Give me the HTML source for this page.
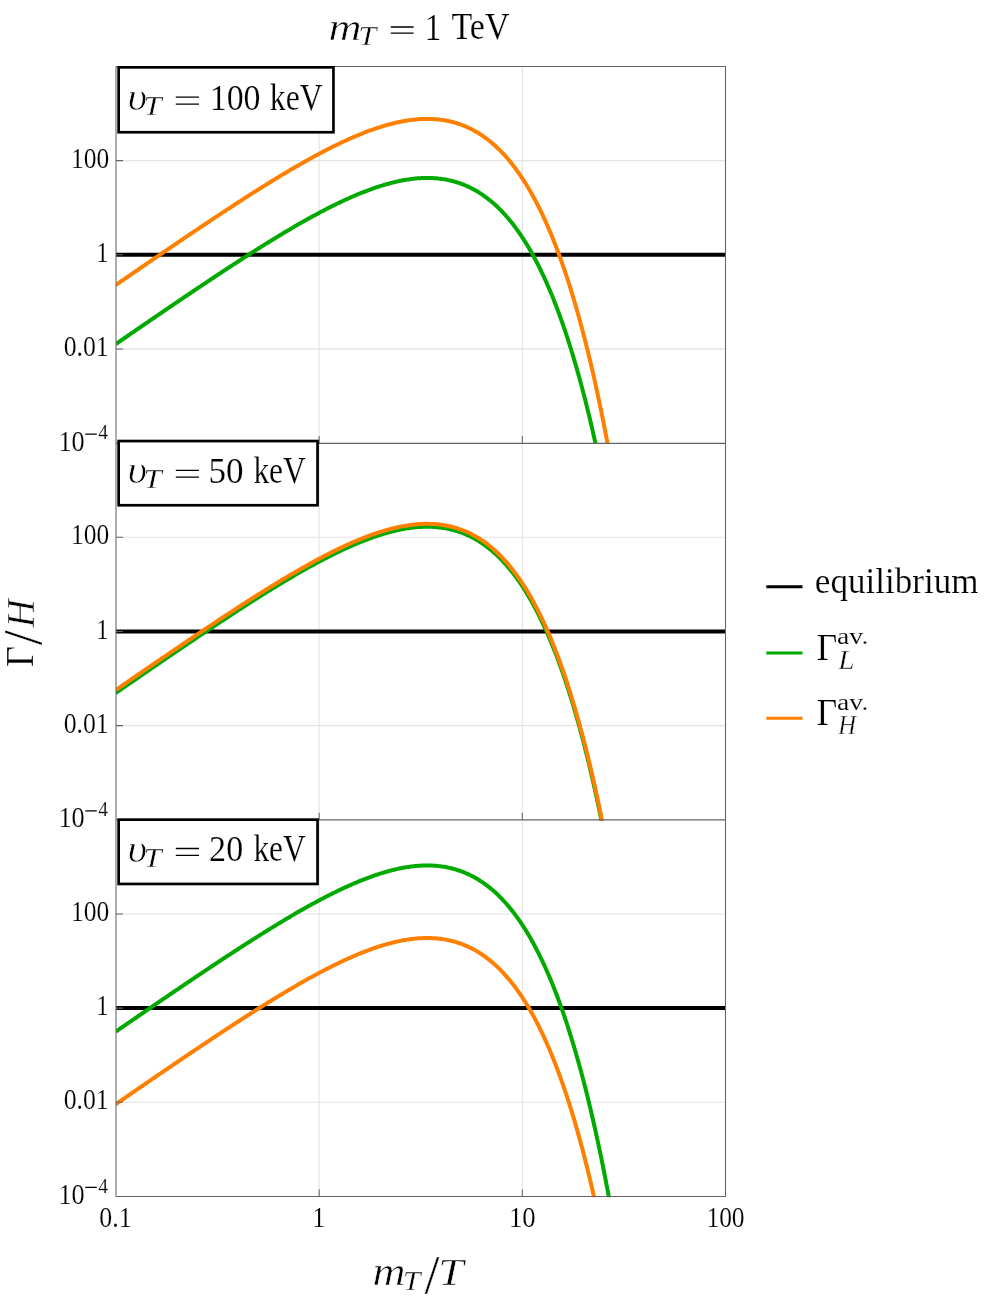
<!DOCTYPE html>
<html><head><meta charset="utf-8"><title>Gamma/H chart</title>
<style>html,body{margin:0;padding:0;background:#fff}svg{display:block}</style></head>
<body>
<svg width="991" height="1304" viewBox="0 0 991 1304" font-family="'Liberation Serif', serif" font-size="40" fill="#000">
<rect width="991" height="1304" fill="#fff"/>
<defs>
<clipPath id="c0"><rect x="116.0" y="66.5" width="609.5" height="377.45"/></clipPath>
<clipPath id="c1"><rect x="116.0" y="443.05" width="609.5" height="377.65"/></clipPath>
<clipPath id="c2"><rect x="116.0" y="819.8" width="609.5" height="377.50"/></clipPath>
</defs>
<path d="M319.17 66.5 V1196.4 M522.33 66.5 V1196.4 M116.0 348.91 H725.5 M116.0 254.78 H725.5 M116.0 160.64 H725.5 M116.0 725.61 H725.5 M116.0 631.42 H725.5 M116.0 537.24 H725.5 M116.0 1102.25 H725.5 M116.0 1008.10 H725.5 M116.0 913.95 H725.5" stroke="#e4e4e4" stroke-width="1.1" fill="none"/>
<g clip-path="url(#c0)" fill="none" stroke-width="4.0" stroke-linejoin="round">
<path d="M116.0 254.78 H725.5" stroke="#000" stroke-width="4.0"/>
<path d="M115.70 344.14 L117.02 343.23 L118.35 342.31 L119.67 341.40 L121.00 340.49 L122.32 339.58 L123.65 338.66 L124.97 337.75 L126.30 336.84 L127.62 335.93 L128.95 335.02 L130.27 334.11 L131.60 333.20 L132.92 332.28 L134.25 331.37 L135.57 330.46 L136.90 329.55 L138.22 328.64 L139.55 327.74 L140.87 326.83 L142.20 325.92 L143.52 325.01 L144.85 324.10 L146.17 323.19 L147.50 322.29 L148.82 321.38 L150.15 320.47 L151.47 319.56 L152.80 318.66 L154.12 317.75 L155.45 316.85 L156.77 315.94 L158.10 315.04 L159.42 314.13 L160.75 313.23 L162.07 312.32 L163.40 311.42 L164.72 310.52 L166.05 309.62 L167.37 308.71 L168.70 307.81 L170.02 306.91 L171.35 306.01 L172.67 305.11 L174.00 304.21 L175.32 303.31 L176.65 302.41 L177.97 301.51 L179.30 300.62 L180.62 299.72 L181.95 298.82 L183.27 297.93 L184.60 297.03 L185.92 296.14 L187.25 295.24 L188.57 294.35 L189.90 293.46 L191.22 292.56 L192.55 291.67 L193.87 290.78 L195.20 289.89 L196.52 289.00 L197.85 288.11 L199.17 287.22 L200.50 286.34 L201.82 285.45 L203.15 284.56 L204.47 283.68 L205.80 282.79 L207.12 281.91 L208.45 281.03 L209.77 280.15 L211.10 279.27 L212.42 278.39 L213.75 277.51 L215.07 276.63 L216.40 275.75 L217.72 274.87 L219.05 274.00 L220.37 273.12 L221.70 272.25 L223.02 271.38 L224.35 270.51 L225.67 269.64 L227.00 268.77 L228.32 267.90 L229.65 267.03 L230.97 266.17 L232.29 265.30 L233.62 264.44 L234.94 263.58 L236.27 262.72 L237.59 261.86 L238.92 261.00 L240.24 260.14 L241.57 259.29 L242.89 258.44 L244.22 257.58 L245.54 256.73 L246.87 255.88 L248.19 255.03 L249.52 254.19 L250.84 253.34 L252.17 252.50 L253.49 251.66 L254.82 250.82 L256.14 249.98 L257.47 249.14 L258.79 248.31 L260.12 247.48 L261.44 246.65 L262.77 245.82 L264.09 244.99 L265.42 244.16 L266.74 243.34 L268.07 242.52 L269.39 241.70 L270.72 240.88 L272.04 240.07 L273.37 239.26 L274.69 238.44 L276.02 237.64 L277.34 236.83 L278.67 236.03 L279.99 235.23 L281.32 234.43 L282.64 233.63 L283.97 232.84 L285.29 232.05 L286.62 231.26 L287.94 230.47 L289.27 229.69 L290.59 228.91 L291.92 228.13 L293.24 227.35 L294.57 226.58 L295.89 225.81 L297.22 225.05 L298.54 224.28 L299.87 223.53 L301.19 222.77 L302.52 222.02 L303.84 221.27 L305.17 220.52 L306.49 219.78 L307.82 219.04 L309.14 218.30 L310.47 217.57 L311.79 216.84 L313.12 216.11 L314.44 215.39 L315.77 214.67 L317.09 213.96 L318.42 213.25 L319.74 212.55 L321.07 211.84 L322.39 211.15 L323.72 210.45 L325.04 209.77 L326.37 209.08 L327.69 208.40 L329.02 207.73 L330.34 207.06 L331.67 206.39 L332.99 205.73 L334.32 205.07 L335.64 204.42 L336.97 203.78 L338.29 203.14 L339.62 202.50 L340.94 201.87 L342.27 201.25 L343.59 200.63 L344.91 200.02 L346.24 199.41 L347.56 198.81 L348.89 198.21 L350.21 197.62 L351.54 197.04 L352.86 196.46 L354.19 195.89 L355.51 195.32 L356.84 194.76 L358.16 194.21 L359.49 193.67 L360.81 193.13 L362.14 192.60 L363.46 192.07 L364.79 191.56 L366.11 191.05 L367.44 190.54 L368.76 190.05 L370.09 189.56 L371.41 189.08 L372.74 188.61 L374.06 188.15 L375.39 187.69 L376.71 187.25 L378.04 186.81 L379.36 186.38 L380.69 185.96 L382.01 185.55 L383.34 185.14 L384.66 184.75 L385.99 184.36 L387.31 183.99 L388.64 183.62 L389.96 183.27 L391.29 182.92 L392.61 182.59 L393.94 182.26 L395.26 181.95 L396.59 181.64 L397.91 181.35 L399.24 181.06 L400.56 180.79 L401.89 180.53 L403.21 180.28 L404.54 180.05 L405.86 179.82 L407.19 179.61 L408.51 179.40 L409.84 179.22 L411.16 179.04 L412.49 178.88 L413.81 178.72 L415.14 178.59 L416.46 178.46 L417.79 178.35 L419.11 178.26 L420.44 178.17 L421.76 178.10 L423.09 178.05 L424.41 178.01 L425.74 177.99 L427.06 177.98 L428.39 177.98 L429.71 178.00 L431.04 178.04 L432.36 178.10 L433.69 178.17 L435.01 178.25 L436.34 178.36 L437.66 178.48 L438.99 178.62 L440.31 178.77 L441.64 178.94 L442.96 179.14 L444.29 179.35 L445.61 179.58 L446.94 179.83 L448.26 180.09 L449.59 180.38 L450.91 180.69 L452.24 181.02 L453.56 181.37 L454.89 181.74 L456.21 182.13 L457.54 182.54 L458.86 182.97 L460.18 183.43 L461.51 183.91 L462.83 184.41 L464.16 184.94 L465.48 185.49 L466.81 186.06 L468.13 186.66 L469.46 187.28 L470.78 187.93 L472.11 188.60 L473.43 189.30 L474.76 190.03 L476.08 190.78 L477.41 191.56 L478.73 192.36 L480.06 193.20 L481.38 194.06 L482.71 194.96 L484.03 195.88 L485.36 196.83 L486.68 197.81 L488.01 198.82 L489.33 199.87 L490.66 200.94 L491.98 202.05 L493.31 203.19 L494.63 204.36 L495.96 205.57 L497.28 206.81 L498.61 208.08 L499.93 209.39 L501.26 210.74 L502.58 212.12 L503.91 213.54 L505.23 215.00 L506.56 216.49 L507.88 218.03 L509.21 219.60 L510.53 221.21 L511.86 222.86 L513.18 224.56 L514.51 226.29 L515.83 228.07 L517.16 229.89 L518.48 231.75 L519.81 233.66 L521.13 235.61 L522.46 237.61 L523.78 239.65 L525.11 241.74 L526.43 243.88 L527.76 246.07 L529.08 248.30 L530.41 250.59 L531.73 252.92 L533.06 255.31 L534.38 257.75 L535.71 260.24 L537.03 262.79 L538.36 265.39 L539.68 268.04 L541.01 270.75 L542.33 273.52 L543.66 276.35 L544.98 279.24 L546.31 282.18 L547.63 285.19 L548.96 288.25 L550.28 291.38 L551.61 294.58 L552.93 297.83 L554.26 301.16 L555.58 304.55 L556.91 308.00 L558.23 311.53 L559.56 315.12 L560.88 318.79 L562.21 322.52 L563.53 326.33 L564.86 330.21 L566.18 334.17 L567.51 338.20 L568.83 342.31 L570.16 346.50 L571.48 350.77 L572.80 355.12 L574.13 359.55 L575.45 364.06 L576.78 368.66 L578.10 373.34 L579.43 378.11 L580.75 382.97 L582.08 387.92 L583.40 392.96 L584.73 398.09 L586.05 403.31 L587.38 408.63 L588.70 414.05 L590.03 419.57 L591.35 425.18 L592.68 430.90 L594.00 436.71 L595.33 442.64 L596.65 448.66 L597.98 454.80 L599.30 461.04 L600.63 467.40 L601.95 473.87 L603.28 480.45 L604.60 487.14 L605.93 493.96 L607.25 500.89 L608.58 507.95 L609.90 515.12 L611.23 522.43 L612.55 529.85 L613.88 537.41 L615.20 545.10 L616.53 552.92 L617.85 560.87 L619.18 568.96 L620.50 577.19 L621.83 585.56 L623.15 594.08 L624.48 602.73 L625.80 611.54 L627.13 620.49 L628.45 629.60 L629.78 638.86 L631.10 648.28 L632.43 657.85 L633.75 667.59 L635.08 677.49 L636.40 687.55 L637.73 697.79 L639.05 708.19 L640.38 718.77 L641.70 729.52 L643.03 740.46 L644.35 751.57" stroke="#00aa00"/>
<path d="M115.70 285.07 L117.02 284.16 L118.35 283.24 L119.67 282.33 L121.00 281.42 L122.32 280.51 L123.65 279.59 L124.97 278.68 L126.30 277.77 L127.62 276.86 L128.95 275.95 L130.27 275.04 L131.60 274.12 L132.92 273.21 L134.25 272.30 L135.57 271.39 L136.90 270.48 L138.22 269.57 L139.55 268.66 L140.87 267.76 L142.20 266.85 L143.52 265.94 L144.85 265.03 L146.17 264.12 L147.50 263.21 L148.82 262.31 L150.15 261.40 L151.47 260.49 L152.80 259.59 L154.12 258.68 L155.45 257.78 L156.77 256.87 L158.10 255.97 L159.42 255.06 L160.75 254.16 L162.07 253.25 L163.40 252.35 L164.72 251.45 L166.05 250.54 L167.37 249.64 L168.70 248.74 L170.02 247.84 L171.35 246.94 L172.67 246.04 L174.00 245.14 L175.32 244.24 L176.65 243.34 L177.97 242.44 L179.30 241.55 L180.62 240.65 L181.95 239.75 L183.27 238.86 L184.60 237.96 L185.92 237.07 L187.25 236.17 L188.57 235.28 L189.90 234.39 L191.22 233.49 L192.55 232.60 L193.87 231.71 L195.20 230.82 L196.52 229.93 L197.85 229.04 L199.17 228.15 L200.50 227.27 L201.82 226.38 L203.15 225.49 L204.47 224.61 L205.80 223.72 L207.12 222.84 L208.45 221.96 L209.77 221.08 L211.10 220.19 L212.42 219.31 L213.75 218.43 L215.07 217.56 L216.40 216.68 L217.72 215.80 L219.05 214.93 L220.37 214.05 L221.70 213.18 L223.02 212.31 L224.35 211.44 L225.67 210.57 L227.00 209.70 L228.32 208.83 L229.65 207.96 L230.97 207.10 L232.29 206.23 L233.62 205.37 L234.94 204.51 L236.27 203.65 L237.59 202.79 L238.92 201.93 L240.24 201.07 L241.57 200.22 L242.89 199.36 L244.22 198.51 L245.54 197.66 L246.87 196.81 L248.19 195.96 L249.52 195.12 L250.84 194.27 L252.17 193.43 L253.49 192.59 L254.82 191.75 L256.14 190.91 L257.47 190.07 L258.79 189.24 L260.12 188.41 L261.44 187.57 L262.77 186.75 L264.09 185.92 L265.42 185.09 L266.74 184.27 L268.07 183.45 L269.39 182.63 L270.72 181.81 L272.04 181.00 L273.37 180.18 L274.69 179.37 L276.02 178.57 L277.34 177.76 L278.67 176.96 L279.99 176.15 L281.32 175.36 L282.64 174.56 L283.97 173.77 L285.29 172.97 L286.62 172.19 L287.94 171.40 L289.27 170.62 L290.59 169.84 L291.92 169.06 L293.24 168.28 L294.57 167.51 L295.89 166.74 L297.22 165.98 L298.54 165.21 L299.87 164.45 L301.19 163.70 L302.52 162.94 L303.84 162.19 L305.17 161.45 L306.49 160.70 L307.82 159.96 L309.14 159.23 L310.47 158.50 L311.79 157.77 L313.12 157.04 L314.44 156.32 L315.77 155.60 L317.09 154.89 L318.42 154.18 L319.74 153.47 L321.07 152.77 L322.39 152.08 L323.72 151.38 L325.04 150.69 L326.37 150.01 L327.69 149.33 L329.02 148.66 L330.34 147.99 L331.67 147.32 L332.99 146.66 L334.32 146.00 L335.64 145.35 L336.97 144.71 L338.29 144.07 L339.62 143.43 L340.94 142.80 L342.27 142.18 L343.59 141.56 L344.91 140.94 L346.24 140.34 L347.56 139.73 L348.89 139.14 L350.21 138.55 L351.54 137.96 L352.86 137.39 L354.19 136.82 L355.51 136.25 L356.84 135.69 L358.16 135.14 L359.49 134.60 L360.81 134.06 L362.14 133.53 L363.46 133.00 L364.79 132.48 L366.11 131.98 L367.44 131.47 L368.76 130.98 L370.09 130.49 L371.41 130.01 L372.74 129.54 L374.06 129.08 L375.39 128.62 L376.71 128.18 L378.04 127.74 L379.36 127.31 L380.69 126.89 L382.01 126.47 L383.34 126.07 L384.66 125.68 L385.99 125.29 L387.31 124.92 L388.64 124.55 L389.96 124.20 L391.29 123.85 L392.61 123.52 L393.94 123.19 L395.26 122.87 L396.59 122.57 L397.91 122.28 L399.24 121.99 L400.56 121.72 L401.89 121.46 L403.21 121.21 L404.54 120.97 L405.86 120.75 L407.19 120.54 L408.51 120.33 L409.84 120.14 L411.16 119.97 L412.49 119.80 L413.81 119.65 L415.14 119.52 L416.46 119.39 L417.79 119.28 L419.11 119.18 L420.44 119.10 L421.76 119.03 L423.09 118.98 L424.41 118.94 L425.74 118.91 L427.06 118.91 L428.39 118.91 L429.71 118.93 L431.04 118.97 L432.36 119.02 L433.69 119.09 L435.01 119.18 L436.34 119.28 L437.66 119.41 L438.99 119.54 L440.31 119.70 L441.64 119.87 L442.96 120.07 L444.29 120.28 L445.61 120.51 L446.94 120.75 L448.26 121.02 L449.59 121.31 L450.91 121.62 L452.24 121.95 L453.56 122.29 L454.89 122.66 L456.21 123.05 L457.54 123.47 L458.86 123.90 L460.18 124.36 L461.51 124.84 L462.83 125.34 L464.16 125.87 L465.48 126.41 L466.81 126.99 L468.13 127.59 L469.46 128.21 L470.78 128.86 L472.11 129.53 L473.43 130.23 L474.76 130.95 L476.08 131.71 L477.41 132.49 L478.73 133.29 L480.06 134.13 L481.38 134.99 L482.71 135.88 L484.03 136.81 L485.36 137.76 L486.68 138.74 L488.01 139.75 L489.33 140.80 L490.66 141.87 L491.98 142.98 L493.31 144.12 L494.63 145.29 L495.96 146.50 L497.28 147.74 L498.61 149.01 L499.93 150.32 L501.26 151.67 L502.58 153.05 L503.91 154.47 L505.23 155.93 L506.56 157.42 L507.88 158.96 L509.21 160.53 L510.53 162.14 L511.86 163.79 L513.18 165.49 L514.51 167.22 L515.83 169.00 L517.16 170.82 L518.48 172.68 L519.81 174.59 L521.13 176.54 L522.46 178.54 L523.78 180.58 L525.11 182.67 L526.43 184.81 L527.76 186.99 L529.08 189.23 L530.41 191.52 L531.73 193.85 L533.06 196.24 L534.38 198.68 L535.71 201.17 L537.03 203.72 L538.36 206.32 L539.68 208.97 L541.01 211.68 L542.33 214.45 L543.66 217.28 L544.98 220.16 L546.31 223.11 L547.63 226.12 L548.96 229.18 L550.28 232.31 L551.61 235.51 L552.93 238.76 L554.26 242.09 L555.58 245.47 L556.91 248.93 L558.23 252.46 L559.56 256.05 L560.88 259.71 L562.21 263.45 L563.53 267.26 L564.86 271.14 L566.18 275.10 L567.51 279.13 L568.83 283.24 L570.16 287.43 L571.48 291.70 L572.80 296.05 L574.13 300.48 L575.45 304.99 L576.78 309.59 L578.10 314.27 L579.43 319.04 L580.75 323.90 L582.08 328.85 L583.40 333.89 L584.73 339.02 L586.05 344.24 L587.38 349.56 L588.70 354.98 L590.03 360.49 L591.35 366.11 L592.68 371.82 L594.00 377.64 L595.33 383.57 L596.65 389.59 L597.98 395.73 L599.30 401.97 L600.63 408.33 L601.95 414.79 L603.28 421.38 L604.60 428.07 L605.93 434.89 L607.25 441.82 L608.58 448.87 L609.90 456.05 L611.23 463.35 L612.55 470.78 L613.88 478.34 L615.20 486.03 L616.53 493.85 L617.85 501.80 L619.18 509.89 L620.50 518.12 L621.83 526.49 L623.15 535.01 L624.48 543.66 L625.80 552.47 L627.13 561.42 L628.45 570.53 L629.78 579.79 L631.10 589.21 L632.43 598.78 L633.75 608.52 L635.08 618.42 L636.40 628.48 L637.73 638.71 L639.05 649.12 L640.38 659.70 L641.70 670.45 L643.03 681.39 L644.35 692.50" stroke="#ff8000"/>
</g>
<g clip-path="url(#c1)" fill="none" stroke-width="4.0" stroke-linejoin="round">
<path d="M116.0 631.42 H725.5" stroke="#000" stroke-width="4.0"/>
<path d="M115.70 693.01 L117.02 692.09 L118.35 691.18 L119.67 690.27 L121.00 689.35 L122.32 688.44 L123.65 687.53 L124.97 686.61 L126.30 685.70 L127.62 684.79 L128.95 683.88 L130.27 682.97 L131.60 682.05 L132.92 681.14 L134.25 680.23 L135.57 679.32 L136.90 678.41 L138.22 677.50 L139.55 676.59 L140.87 675.68 L142.20 674.77 L143.52 673.86 L144.85 672.96 L146.17 672.05 L147.50 671.14 L148.82 670.23 L150.15 669.32 L151.47 668.42 L152.80 667.51 L154.12 666.60 L155.45 665.70 L156.77 664.79 L158.10 663.89 L159.42 662.98 L160.75 662.08 L162.07 661.17 L163.40 660.27 L164.72 659.37 L166.05 658.46 L167.37 657.56 L168.70 656.66 L170.02 655.76 L171.35 654.86 L172.67 653.96 L174.00 653.05 L175.32 652.16 L176.65 651.26 L177.97 650.36 L179.30 649.46 L180.62 648.56 L181.95 647.66 L183.27 646.77 L184.60 645.87 L185.92 644.98 L187.25 644.08 L188.57 643.19 L189.90 642.29 L191.22 641.40 L192.55 640.51 L193.87 639.62 L195.20 638.73 L196.52 637.84 L197.85 636.95 L199.17 636.06 L200.50 635.17 L201.82 634.28 L203.15 633.40 L204.47 632.51 L205.80 631.63 L207.12 630.74 L208.45 629.86 L209.77 628.98 L211.10 628.10 L212.42 627.22 L213.75 626.34 L215.07 625.46 L216.40 624.58 L217.72 623.70 L219.05 622.83 L220.37 621.95 L221.70 621.08 L223.02 620.21 L224.35 619.33 L225.67 618.46 L227.00 617.59 L228.32 616.72 L229.65 615.86 L230.97 614.99 L232.29 614.13 L233.62 613.26 L234.94 612.40 L236.27 611.54 L237.59 610.68 L238.92 609.82 L240.24 608.96 L241.57 608.11 L242.89 607.25 L244.22 606.40 L245.54 605.55 L246.87 604.70 L248.19 603.85 L249.52 603.01 L250.84 602.16 L252.17 601.32 L253.49 600.47 L254.82 599.63 L256.14 598.80 L257.47 597.96 L258.79 597.12 L260.12 596.29 L261.44 595.46 L262.77 594.63 L264.09 593.80 L265.42 592.98 L266.74 592.15 L268.07 591.33 L269.39 590.51 L270.72 589.69 L272.04 588.88 L273.37 588.06 L274.69 587.25 L276.02 586.45 L277.34 585.64 L278.67 584.83 L279.99 584.03 L281.32 583.23 L282.64 582.44 L283.97 581.64 L285.29 580.85 L286.62 580.06 L287.94 579.28 L289.27 578.49 L290.59 577.71 L291.92 576.93 L293.24 576.16 L294.57 575.39 L295.89 574.62 L297.22 573.85 L298.54 573.09 L299.87 572.33 L301.19 571.57 L302.52 570.82 L303.84 570.07 L305.17 569.32 L306.49 568.57 L307.82 567.83 L309.14 567.10 L310.47 566.36 L311.79 565.64 L313.12 564.91 L314.44 564.19 L315.77 563.47 L317.09 562.76 L318.42 562.05 L319.74 561.34 L321.07 560.64 L322.39 559.94 L323.72 559.25 L325.04 558.56 L326.37 557.87 L327.69 557.20 L329.02 556.52 L330.34 555.85 L331.67 555.18 L332.99 554.52 L334.32 553.87 L335.64 553.21 L336.97 552.57 L338.29 551.93 L339.62 551.29 L340.94 550.66 L342.27 550.04 L343.59 549.42 L344.91 548.80 L346.24 548.20 L347.56 547.59 L348.89 547.00 L350.21 546.41 L351.54 545.82 L352.86 545.24 L354.19 544.67 L355.51 544.11 L356.84 543.55 L358.16 543.00 L359.49 542.45 L360.81 541.91 L362.14 541.38 L363.46 540.86 L364.79 540.34 L366.11 539.83 L367.44 539.33 L368.76 538.83 L370.09 538.35 L371.41 537.87 L372.74 537.39 L374.06 536.93 L375.39 536.48 L376.71 536.03 L378.04 535.59 L379.36 535.16 L380.69 534.74 L382.01 534.33 L383.34 533.92 L384.66 533.53 L385.99 533.14 L387.31 532.77 L388.64 532.40 L389.96 532.05 L391.29 531.70 L392.61 531.37 L393.94 531.04 L395.26 530.72 L396.59 530.42 L397.91 530.13 L399.24 529.84 L400.56 529.57 L401.89 529.31 L403.21 529.06 L404.54 528.82 L405.86 528.60 L407.19 528.38 L408.51 528.18 L409.84 527.99 L411.16 527.82 L412.49 527.65 L413.81 527.50 L415.14 527.36 L416.46 527.24 L417.79 527.13 L419.11 527.03 L420.44 526.95 L421.76 526.88 L423.09 526.83 L424.41 526.79 L425.74 526.76 L427.06 526.75 L428.39 526.76 L429.71 526.78 L431.04 526.82 L432.36 526.87 L433.69 526.94 L435.01 527.03 L436.34 527.13 L437.66 527.25 L438.99 527.39 L440.31 527.55 L441.64 527.72 L442.96 527.91 L444.29 528.13 L445.61 528.35 L446.94 528.60 L448.26 528.87 L449.59 529.16 L450.91 529.47 L452.24 529.80 L453.56 530.14 L454.89 530.51 L456.21 530.91 L457.54 531.32 L458.86 531.75 L460.18 532.21 L461.51 532.69 L462.83 533.19 L464.16 533.72 L465.48 534.27 L466.81 534.84 L468.13 535.44 L469.46 536.06 L470.78 536.71 L472.11 537.38 L473.43 538.08 L474.76 538.81 L476.08 539.56 L477.41 540.34 L478.73 541.15 L480.06 541.98 L481.38 542.85 L482.71 543.74 L484.03 544.66 L485.36 545.62 L486.68 546.60 L488.01 547.61 L489.33 548.65 L490.66 549.73 L491.98 550.84 L493.31 551.98 L494.63 553.15 L495.96 554.36 L497.28 555.60 L498.61 556.88 L499.93 558.19 L501.26 559.54 L502.58 560.92 L503.91 562.34 L505.23 563.80 L506.56 565.29 L507.88 566.83 L509.21 568.40 L510.53 570.01 L511.86 571.66 L513.18 573.36 L514.51 575.09 L515.83 576.87 L517.16 578.69 L518.48 580.56 L519.81 582.46 L521.13 584.42 L522.46 586.42 L523.78 588.46 L525.11 590.55 L526.43 592.69 L527.76 594.88 L529.08 597.12 L530.41 599.40 L531.73 601.74 L533.06 604.13 L534.38 606.57 L535.71 609.06 L537.03 611.61 L538.36 614.21 L539.68 616.87 L541.01 619.58 L542.33 622.35 L543.66 625.18 L544.98 628.07 L546.31 631.01 L547.63 634.02 L548.96 637.09 L550.28 640.22 L551.61 643.42 L552.93 646.67 L554.26 650.00 L555.58 653.39 L556.91 656.85 L558.23 660.37 L559.56 663.97 L560.88 667.64 L562.21 671.38 L563.53 675.19 L564.86 679.07 L566.18 683.03 L567.51 687.06 L568.83 691.18 L570.16 695.37 L571.48 699.64 L572.80 703.99 L574.13 708.42 L575.45 712.94 L576.78 717.54 L578.10 722.22 L579.43 726.99 L580.75 731.86 L582.08 736.81 L583.40 741.85 L584.73 746.98 L586.05 752.21 L587.38 757.53 L588.70 762.95 L590.03 768.47 L591.35 774.09 L592.68 779.81 L594.00 785.63 L595.33 791.55 L596.65 797.59 L597.98 803.72 L599.30 809.97 L600.63 816.33 L601.95 822.80 L603.28 829.38 L604.60 836.08 L605.93 842.90 L607.25 849.84 L608.58 856.90 L609.90 864.08 L611.23 871.38 L612.55 878.82 L613.88 886.38 L615.20 894.07 L616.53 901.89 L617.85 909.85 L619.18 917.95 L620.50 926.18 L621.83 934.56 L623.15 943.07 L624.48 951.74 L625.80 960.55 L627.13 969.51 L628.45 978.62 L629.78 987.88 L631.10 997.30 L632.43 1006.88 L633.75 1016.62 L635.08 1026.53 L636.40 1036.60 L637.73 1046.84 L639.05 1057.25 L640.38 1067.83 L641.70 1078.59 L643.03 1089.53 L644.35 1100.65" stroke="#00aa00"/>
<path d="M115.70 690.09 L117.02 689.17 L118.35 688.26 L119.67 687.35 L121.00 686.43 L122.32 685.52 L123.65 684.61 L124.97 683.69 L126.30 682.78 L127.62 681.87 L128.95 680.96 L130.27 680.05 L131.60 679.13 L132.92 678.22 L134.25 677.31 L135.57 676.40 L136.90 675.49 L138.22 674.58 L139.55 673.67 L140.87 672.76 L142.20 671.85 L143.52 670.94 L144.85 670.04 L146.17 669.13 L147.50 668.22 L148.82 667.31 L150.15 666.40 L151.47 665.50 L152.80 664.59 L154.12 663.68 L155.45 662.78 L156.77 661.87 L158.10 660.97 L159.42 660.06 L160.75 659.16 L162.07 658.25 L163.40 657.35 L164.72 656.45 L166.05 655.54 L167.37 654.64 L168.70 653.74 L170.02 652.84 L171.35 651.94 L172.67 651.04 L174.00 650.14 L175.32 649.24 L176.65 648.34 L177.97 647.44 L179.30 646.54 L180.62 645.64 L181.95 644.74 L183.27 643.85 L184.60 642.95 L185.92 642.06 L187.25 641.16 L188.57 640.27 L189.90 639.37 L191.22 638.48 L192.55 637.59 L193.87 636.70 L195.20 635.81 L196.52 634.92 L197.85 634.03 L199.17 633.14 L200.50 632.25 L201.82 631.36 L203.15 630.48 L204.47 629.59 L205.80 628.71 L207.12 627.82 L208.45 626.94 L209.77 626.06 L211.10 625.18 L212.42 624.30 L213.75 623.42 L215.07 622.54 L216.40 621.66 L217.72 620.78 L219.05 619.91 L220.37 619.03 L221.70 618.16 L223.02 617.29 L224.35 616.41 L225.67 615.54 L227.00 614.67 L228.32 613.81 L229.65 612.94 L230.97 612.07 L232.29 611.21 L233.62 610.34 L234.94 609.48 L236.27 608.62 L237.59 607.76 L238.92 606.90 L240.24 606.04 L241.57 605.19 L242.89 604.33 L244.22 603.48 L245.54 602.63 L246.87 601.78 L248.19 600.93 L249.52 600.09 L250.84 599.24 L252.17 598.40 L253.49 597.55 L254.82 596.71 L256.14 595.88 L257.47 595.04 L258.79 594.20 L260.12 593.37 L261.44 592.54 L262.77 591.71 L264.09 590.88 L265.42 590.06 L266.74 589.23 L268.07 588.41 L269.39 587.59 L270.72 586.77 L272.04 585.96 L273.37 585.14 L274.69 584.33 L276.02 583.53 L277.34 582.72 L278.67 581.91 L279.99 581.11 L281.32 580.31 L282.64 579.52 L283.97 578.72 L285.29 577.93 L286.62 577.14 L287.94 576.36 L289.27 575.57 L290.59 574.79 L291.92 574.01 L293.24 573.24 L294.57 572.47 L295.89 571.70 L297.22 570.93 L298.54 570.17 L299.87 569.41 L301.19 568.65 L302.52 567.90 L303.84 567.15 L305.17 566.40 L306.49 565.65 L307.82 564.91 L309.14 564.18 L310.47 563.45 L311.79 562.72 L313.12 561.99 L314.44 561.27 L315.77 560.55 L317.09 559.84 L318.42 559.13 L319.74 558.42 L321.07 557.72 L322.39 557.02 L323.72 556.33 L325.04 555.64 L326.37 554.96 L327.69 554.28 L329.02 553.60 L330.34 552.93 L331.67 552.26 L332.99 551.60 L334.32 550.95 L335.64 550.29 L336.97 549.65 L338.29 549.01 L339.62 548.37 L340.94 547.74 L342.27 547.12 L343.59 546.50 L344.91 545.88 L346.24 545.28 L347.56 544.67 L348.89 544.08 L350.21 543.49 L351.54 542.90 L352.86 542.33 L354.19 541.75 L355.51 541.19 L356.84 540.63 L358.16 540.08 L359.49 539.53 L360.81 538.99 L362.14 538.46 L363.46 537.94 L364.79 537.42 L366.11 536.91 L367.44 536.41 L368.76 535.91 L370.09 535.43 L371.41 534.95 L372.74 534.47 L374.06 534.01 L375.39 533.56 L376.71 533.11 L378.04 532.67 L379.36 532.24 L380.69 531.82 L382.01 531.41 L383.34 531.00 L384.66 530.61 L385.99 530.22 L387.31 529.85 L388.64 529.48 L389.96 529.13 L391.29 528.78 L392.61 528.45 L393.94 528.12 L395.26 527.80 L396.59 527.50 L397.91 527.21 L399.24 526.92 L400.56 526.65 L401.89 526.39 L403.21 526.14 L404.54 525.90 L405.86 525.68 L407.19 525.46 L408.51 525.26 L409.84 525.07 L411.16 524.90 L412.49 524.73 L413.81 524.58 L415.14 524.44 L416.46 524.32 L417.79 524.21 L419.11 524.11 L420.44 524.03 L421.76 523.96 L423.09 523.91 L424.41 523.87 L425.74 523.84 L427.06 523.83 L428.39 523.84 L429.71 523.86 L431.04 523.90 L432.36 523.95 L433.69 524.02 L435.01 524.11 L436.34 524.21 L437.66 524.33 L438.99 524.47 L440.31 524.63 L441.64 524.80 L442.96 524.99 L444.29 525.21 L445.61 525.43 L446.94 525.68 L448.26 525.95 L449.59 526.24 L450.91 526.55 L452.24 526.88 L453.56 527.22 L454.89 527.59 L456.21 527.99 L457.54 528.40 L458.86 528.83 L460.18 529.29 L461.51 529.77 L462.83 530.27 L464.16 530.80 L465.48 531.35 L466.81 531.92 L468.13 532.52 L469.46 533.14 L470.78 533.79 L472.11 534.46 L473.43 535.16 L474.76 535.89 L476.08 536.64 L477.41 537.42 L478.73 538.23 L480.06 539.06 L481.38 539.93 L482.71 540.82 L484.03 541.74 L485.36 542.70 L486.68 543.68 L488.01 544.69 L489.33 545.74 L490.66 546.81 L491.98 547.92 L493.31 549.06 L494.63 550.23 L495.96 551.44 L497.28 552.68 L498.61 553.96 L499.93 555.27 L501.26 556.62 L502.58 558.00 L503.91 559.42 L505.23 560.88 L506.56 562.37 L507.88 563.91 L509.21 565.48 L510.53 567.09 L511.86 568.74 L513.18 570.44 L514.51 572.17 L515.83 573.95 L517.16 575.77 L518.48 577.64 L519.81 579.54 L521.13 581.50 L522.46 583.50 L523.78 585.54 L525.11 587.63 L526.43 589.77 L527.76 591.96 L529.08 594.20 L530.41 596.48 L531.73 598.82 L533.06 601.21 L534.38 603.65 L535.71 606.14 L537.03 608.69 L538.36 611.29 L539.68 613.95 L541.01 616.66 L542.33 619.43 L543.66 622.26 L544.98 625.15 L546.31 628.09 L547.63 631.10 L548.96 634.17 L550.28 637.30 L551.61 640.50 L552.93 643.75 L554.26 647.08 L555.58 650.47 L556.91 653.93 L558.23 657.45 L559.56 661.05 L560.88 664.72 L562.21 668.46 L563.53 672.27 L564.86 676.15 L566.18 680.11 L567.51 684.14 L568.83 688.26 L570.16 692.45 L571.48 696.72 L572.80 701.07 L574.13 705.50 L575.45 710.02 L576.78 714.62 L578.10 719.30 L579.43 724.07 L580.75 728.94 L582.08 733.89 L583.40 738.93 L584.73 744.06 L586.05 749.29 L587.38 754.61 L588.70 760.03 L590.03 765.55 L591.35 771.17 L592.68 776.89 L594.00 782.71 L595.33 788.63 L596.65 794.67 L597.98 800.80 L599.30 807.05 L600.63 813.41 L601.95 819.88 L603.28 826.46 L604.60 833.16 L605.93 839.98 L607.25 846.92 L608.58 853.98 L609.90 861.16 L611.23 868.46 L612.55 875.90 L613.88 883.46 L615.20 891.15 L616.53 898.97 L617.85 906.93 L619.18 915.03 L620.50 923.26 L621.83 931.64 L623.15 940.15 L624.48 948.82 L625.80 957.63 L627.13 966.59 L628.45 975.70 L629.78 984.96 L631.10 994.38 L632.43 1003.96 L633.75 1013.70 L635.08 1023.61 L636.40 1033.68 L637.73 1043.92 L639.05 1054.33 L640.38 1064.91 L641.70 1075.67 L643.03 1086.61 L644.35 1097.73" stroke="#ff8000"/>
</g>
<g clip-path="url(#c2)" fill="none" stroke-width="4.0" stroke-linejoin="round">
<path d="M116.0 1008.10 H725.5" stroke="#000" stroke-width="4.0"/>
<path d="M115.70 1031.67 L117.02 1030.75 L118.35 1029.84 L119.67 1028.93 L121.00 1028.01 L122.32 1027.10 L123.65 1026.19 L124.97 1025.28 L126.30 1024.37 L127.62 1023.45 L128.95 1022.54 L130.27 1021.63 L131.60 1020.72 L132.92 1019.81 L134.25 1018.90 L135.57 1017.99 L136.90 1017.08 L138.22 1016.17 L139.55 1015.26 L140.87 1014.35 L142.20 1013.44 L143.52 1012.53 L144.85 1011.62 L146.17 1010.72 L147.50 1009.81 L148.82 1008.90 L150.15 1007.99 L151.47 1007.09 L152.80 1006.18 L154.12 1005.27 L155.45 1004.37 L156.77 1003.46 L158.10 1002.56 L159.42 1001.65 L160.75 1000.75 L162.07 999.85 L163.40 998.94 L164.72 998.04 L166.05 997.14 L167.37 996.24 L168.70 995.33 L170.02 994.43 L171.35 993.53 L172.67 992.63 L174.00 991.73 L175.32 990.83 L176.65 989.93 L177.97 989.04 L179.30 988.14 L180.62 987.24 L181.95 986.34 L183.27 985.45 L184.60 984.55 L185.92 983.66 L187.25 982.76 L188.57 981.87 L189.90 980.98 L191.22 980.08 L192.55 979.19 L193.87 978.30 L195.20 977.41 L196.52 976.52 L197.85 975.63 L199.17 974.74 L200.50 973.86 L201.82 972.97 L203.15 972.08 L204.47 971.20 L205.80 970.31 L207.12 969.43 L208.45 968.55 L209.77 967.66 L211.10 966.78 L212.42 965.90 L213.75 965.02 L215.07 964.14 L216.40 963.27 L217.72 962.39 L219.05 961.52 L220.37 960.64 L221.70 959.77 L223.02 958.90 L224.35 958.02 L225.67 957.15 L227.00 956.28 L228.32 955.42 L229.65 954.55 L230.97 953.68 L232.29 952.82 L233.62 951.96 L234.94 951.09 L236.27 950.23 L237.59 949.37 L238.92 948.52 L240.24 947.66 L241.57 946.80 L242.89 945.95 L244.22 945.10 L245.54 944.25 L246.87 943.40 L248.19 942.55 L249.52 941.70 L250.84 940.86 L252.17 940.01 L253.49 939.17 L254.82 938.33 L256.14 937.49 L257.47 936.66 L258.79 935.82 L260.12 934.99 L261.44 934.16 L262.77 933.33 L264.09 932.50 L265.42 931.68 L266.74 930.85 L268.07 930.03 L269.39 929.21 L270.72 928.40 L272.04 927.58 L273.37 926.77 L274.69 925.96 L276.02 925.15 L277.34 924.34 L278.67 923.54 L279.99 922.74 L281.32 921.94 L282.64 921.14 L283.97 920.35 L285.29 919.56 L286.62 918.77 L287.94 917.98 L289.27 917.20 L290.59 916.42 L291.92 915.64 L293.24 914.87 L294.57 914.09 L295.89 913.32 L297.22 912.56 L298.54 911.80 L299.87 911.04 L301.19 910.28 L302.52 909.53 L303.84 908.78 L305.17 908.03 L306.49 907.29 L307.82 906.55 L309.14 905.81 L310.47 905.08 L311.79 904.35 L313.12 903.62 L314.44 902.90 L315.77 902.18 L317.09 901.47 L318.42 900.76 L319.74 900.05 L321.07 899.35 L322.39 898.66 L323.72 897.96 L325.04 897.27 L326.37 896.59 L327.69 895.91 L329.02 895.24 L330.34 894.56 L331.67 893.90 L332.99 893.24 L334.32 892.58 L335.64 891.93 L336.97 891.29 L338.29 890.64 L339.62 890.01 L340.94 889.38 L342.27 888.75 L343.59 888.14 L344.91 887.52 L346.24 886.91 L347.56 886.31 L348.89 885.72 L350.21 885.13 L351.54 884.54 L352.86 883.96 L354.19 883.39 L355.51 882.83 L356.84 882.27 L358.16 881.72 L359.49 881.17 L360.81 880.63 L362.14 880.10 L363.46 879.58 L364.79 879.06 L366.11 878.55 L367.44 878.05 L368.76 877.55 L370.09 877.07 L371.41 876.59 L372.74 876.12 L374.06 875.65 L375.39 875.20 L376.71 874.75 L378.04 874.31 L379.36 873.88 L380.69 873.46 L382.01 873.05 L383.34 872.65 L384.66 872.25 L385.99 871.87 L387.31 871.49 L388.64 871.13 L389.96 870.77 L391.29 870.43 L392.61 870.09 L393.94 869.77 L395.26 869.45 L396.59 869.15 L397.91 868.85 L399.24 868.57 L400.56 868.30 L401.89 868.04 L403.21 867.79 L404.54 867.55 L405.86 867.32 L407.19 867.11 L408.51 866.91 L409.84 866.72 L411.16 866.54 L412.49 866.38 L413.81 866.23 L415.14 866.09 L416.46 865.97 L417.79 865.86 L419.11 865.76 L420.44 865.68 L421.76 865.61 L423.09 865.55 L424.41 865.51 L425.74 865.49 L427.06 865.48 L428.39 865.49 L429.71 865.51 L431.04 865.55 L432.36 865.60 L433.69 865.67 L435.01 865.76 L436.34 865.86 L437.66 865.98 L438.99 866.12 L440.31 866.28 L441.64 866.45 L442.96 866.64 L444.29 866.85 L445.61 867.08 L446.94 867.33 L448.26 867.60 L449.59 867.89 L450.91 868.19 L452.24 868.52 L453.56 868.87 L454.89 869.24 L456.21 869.63 L457.54 870.04 L458.86 870.48 L460.18 870.93 L461.51 871.41 L462.83 871.92 L464.16 872.44 L465.48 872.99 L466.81 873.56 L468.13 874.16 L469.46 874.79 L470.78 875.43 L472.11 876.11 L473.43 876.81 L474.76 877.53 L476.08 878.28 L477.41 879.06 L478.73 879.87 L480.06 880.71 L481.38 881.57 L482.71 882.46 L484.03 883.38 L485.36 884.34 L486.68 885.32 L488.01 886.33 L489.33 887.37 L490.66 888.45 L491.98 889.56 L493.31 890.70 L494.63 891.87 L495.96 893.08 L497.28 894.32 L498.61 895.59 L499.93 896.90 L501.26 898.25 L502.58 899.63 L503.91 901.05 L505.23 902.51 L506.56 904.00 L507.88 905.54 L509.21 907.11 L510.53 908.72 L511.86 910.37 L513.18 912.07 L514.51 913.80 L515.83 915.58 L517.16 917.40 L518.48 919.26 L519.81 921.17 L521.13 923.12 L522.46 925.12 L523.78 927.16 L525.11 929.25 L526.43 931.39 L527.76 933.58 L529.08 935.81 L530.41 938.10 L531.73 940.44 L533.06 942.82 L534.38 945.26 L535.71 947.76 L537.03 950.30 L538.36 952.90 L539.68 955.56 L541.01 958.27 L542.33 961.04 L543.66 963.87 L544.98 966.75 L546.31 969.70 L547.63 972.70 L548.96 975.77 L550.28 978.90 L551.61 982.10 L552.93 985.35 L554.26 988.68 L555.58 992.07 L556.91 995.52 L558.23 999.05 L559.56 1002.64 L560.88 1006.31 L562.21 1010.04 L563.53 1013.85 L564.86 1017.74 L566.18 1021.69 L567.51 1025.73 L568.83 1029.84 L570.16 1034.03 L571.48 1038.30 L572.80 1042.64 L574.13 1047.08 L575.45 1051.59 L576.78 1056.19 L578.10 1060.87 L579.43 1065.64 L580.75 1070.50 L582.08 1075.45 L583.40 1080.49 L584.73 1085.62 L586.05 1090.85 L587.38 1096.17 L588.70 1101.59 L590.03 1107.10 L591.35 1112.72 L592.68 1118.43 L594.00 1124.25 L595.33 1130.18 L596.65 1136.20 L597.98 1142.34 L599.30 1148.59 L600.63 1154.94 L601.95 1161.41 L603.28 1167.99 L604.60 1174.69 L605.93 1181.50 L607.25 1188.44 L608.58 1195.49 L609.90 1202.67 L611.23 1209.97 L612.55 1217.40 L613.88 1224.96 L615.20 1232.65 L616.53 1240.47 L617.85 1248.43 L619.18 1256.52 L620.50 1264.75 L621.83 1273.12 L623.15 1281.64 L624.48 1290.30 L625.80 1299.10 L627.13 1308.06 L628.45 1317.16 L629.78 1326.43 L631.10 1335.84 L632.43 1345.42 L633.75 1355.16 L635.08 1365.06 L636.40 1375.12 L637.73 1385.36 L639.05 1395.77 L640.38 1406.34 L641.70 1417.10 L643.03 1428.04 L644.35 1439.15" stroke="#00aa00"/>
<path d="M115.70 1104.21 L117.02 1103.30 L118.35 1102.38 L119.67 1101.47 L121.00 1100.56 L122.32 1099.64 L123.65 1098.73 L124.97 1097.82 L126.30 1096.91 L127.62 1096.00 L128.95 1095.08 L130.27 1094.17 L131.60 1093.26 L132.92 1092.35 L134.25 1091.44 L135.57 1090.53 L136.90 1089.62 L138.22 1088.71 L139.55 1087.80 L140.87 1086.89 L142.20 1085.98 L143.52 1085.08 L144.85 1084.17 L146.17 1083.26 L147.50 1082.35 L148.82 1081.44 L150.15 1080.54 L151.47 1079.63 L152.80 1078.72 L154.12 1077.82 L155.45 1076.91 L156.77 1076.01 L158.10 1075.10 L159.42 1074.20 L160.75 1073.29 L162.07 1072.39 L163.40 1071.49 L164.72 1070.58 L166.05 1069.68 L167.37 1068.78 L168.70 1067.88 L170.02 1066.98 L171.35 1066.07 L172.67 1065.17 L174.00 1064.27 L175.32 1063.37 L176.65 1062.48 L177.97 1061.58 L179.30 1060.68 L180.62 1059.78 L181.95 1058.89 L183.27 1057.99 L184.60 1057.09 L185.92 1056.20 L187.25 1055.31 L188.57 1054.41 L189.90 1053.52 L191.22 1052.63 L192.55 1051.73 L193.87 1050.84 L195.20 1049.95 L196.52 1049.06 L197.85 1048.17 L199.17 1047.29 L200.50 1046.40 L201.82 1045.51 L203.15 1044.62 L204.47 1043.74 L205.80 1042.85 L207.12 1041.97 L208.45 1041.09 L209.77 1040.21 L211.10 1039.33 L212.42 1038.45 L213.75 1037.57 L215.07 1036.69 L216.40 1035.81 L217.72 1034.93 L219.05 1034.06 L220.37 1033.18 L221.70 1032.31 L223.02 1031.44 L224.35 1030.57 L225.67 1029.70 L227.00 1028.83 L228.32 1027.96 L229.65 1027.09 L230.97 1026.23 L232.29 1025.36 L233.62 1024.50 L234.94 1023.64 L236.27 1022.78 L237.59 1021.92 L238.92 1021.06 L240.24 1020.20 L241.57 1019.35 L242.89 1018.49 L244.22 1017.64 L245.54 1016.79 L246.87 1015.94 L248.19 1015.09 L249.52 1014.24 L250.84 1013.40 L252.17 1012.56 L253.49 1011.71 L254.82 1010.87 L256.14 1010.04 L257.47 1009.20 L258.79 1008.37 L260.12 1007.53 L261.44 1006.70 L262.77 1005.87 L264.09 1005.04 L265.42 1004.22 L266.74 1003.40 L268.07 1002.57 L269.39 1001.76 L270.72 1000.94 L272.04 1000.12 L273.37 999.31 L274.69 998.50 L276.02 997.69 L277.34 996.88 L278.67 996.08 L279.99 995.28 L281.32 994.48 L282.64 993.68 L283.97 992.89 L285.29 992.10 L286.62 991.31 L287.94 990.52 L289.27 989.74 L290.59 988.96 L291.92 988.18 L293.24 987.41 L294.57 986.64 L295.89 985.87 L297.22 985.10 L298.54 984.34 L299.87 983.58 L301.19 982.82 L302.52 982.07 L303.84 981.32 L305.17 980.57 L306.49 979.83 L307.82 979.09 L309.14 978.35 L310.47 977.62 L311.79 976.89 L313.12 976.16 L314.44 975.44 L315.77 974.73 L317.09 974.01 L318.42 973.30 L319.74 972.60 L321.07 971.90 L322.39 971.20 L323.72 970.51 L325.04 969.82 L326.37 969.13 L327.69 968.45 L329.02 967.78 L330.34 967.11 L331.67 966.44 L332.99 965.78 L334.32 965.12 L335.64 964.47 L336.97 963.83 L338.29 963.19 L339.62 962.55 L340.94 961.92 L342.27 961.30 L343.59 960.68 L344.91 960.06 L346.24 959.46 L347.56 958.86 L348.89 958.26 L350.21 957.67 L351.54 957.09 L352.86 956.51 L354.19 955.94 L355.51 955.37 L356.84 954.81 L358.16 954.26 L359.49 953.72 L360.81 953.18 L362.14 952.65 L363.46 952.12 L364.79 951.60 L366.11 951.09 L367.44 950.59 L368.76 950.10 L370.09 949.61 L371.41 949.13 L372.74 948.66 L374.06 948.20 L375.39 947.74 L376.71 947.29 L378.04 946.86 L379.36 946.43 L380.69 946.01 L382.01 945.59 L383.34 945.19 L384.66 944.80 L385.99 944.41 L387.31 944.04 L388.64 943.67 L389.96 943.32 L391.29 942.97 L392.61 942.63 L393.94 942.31 L395.26 941.99 L396.59 941.69 L397.91 941.39 L399.24 941.11 L400.56 940.84 L401.89 940.58 L403.21 940.33 L404.54 940.09 L405.86 939.87 L407.19 939.65 L408.51 939.45 L409.84 939.26 L411.16 939.09 L412.49 938.92 L413.81 938.77 L415.14 938.63 L416.46 938.51 L417.79 938.40 L419.11 938.30 L420.44 938.22 L421.76 938.15 L423.09 938.10 L424.41 938.06 L425.74 938.03 L427.06 938.02 L428.39 938.03 L429.71 938.05 L431.04 938.09 L432.36 938.14 L433.69 938.21 L435.01 938.30 L436.34 938.40 L437.66 938.52 L438.99 938.66 L440.31 938.82 L441.64 938.99 L442.96 939.18 L444.29 939.39 L445.61 939.62 L446.94 939.87 L448.26 940.14 L449.59 940.43 L450.91 940.74 L452.24 941.06 L453.56 941.41 L454.89 941.78 L456.21 942.17 L457.54 942.59 L458.86 943.02 L460.18 943.48 L461.51 943.96 L462.83 944.46 L464.16 944.98 L465.48 945.53 L466.81 946.11 L468.13 946.71 L469.46 947.33 L470.78 947.98 L472.11 948.65 L473.43 949.35 L474.76 950.07 L476.08 950.83 L477.41 951.61 L478.73 952.41 L480.06 953.25 L481.38 954.11 L482.71 955.00 L484.03 955.93 L485.36 956.88 L486.68 957.86 L488.01 958.87 L489.33 959.92 L490.66 960.99 L491.98 962.10 L493.31 963.24 L494.63 964.41 L495.96 965.62 L497.28 966.86 L498.61 968.13 L499.93 969.45 L501.26 970.79 L502.58 972.17 L503.91 973.59 L505.23 975.05 L506.56 976.55 L507.88 978.08 L509.21 979.65 L510.53 981.26 L511.86 982.92 L513.18 984.61 L514.51 986.34 L515.83 988.12 L517.16 989.94 L518.48 991.80 L519.81 993.71 L521.13 995.66 L522.46 997.66 L523.78 999.71 L525.11 1001.80 L526.43 1003.93 L527.76 1006.12 L529.08 1008.36 L530.41 1010.64 L531.73 1012.98 L533.06 1015.37 L534.38 1017.81 L535.71 1020.30 L537.03 1022.84 L538.36 1025.45 L539.68 1028.10 L541.01 1030.81 L542.33 1033.58 L543.66 1036.41 L544.98 1039.30 L546.31 1042.24 L547.63 1045.25 L548.96 1048.32 L550.28 1051.45 L551.61 1054.64 L552.93 1057.90 L554.26 1061.22 L555.58 1064.61 L556.91 1068.07 L558.23 1071.59 L559.56 1075.19 L560.88 1078.85 L562.21 1082.59 L563.53 1086.40 L564.86 1090.28 L566.18 1094.24 L567.51 1098.27 L568.83 1102.38 L570.16 1106.57 L571.48 1110.84 L572.80 1115.19 L574.13 1119.62 L575.45 1124.13 L576.78 1128.73 L578.10 1133.41 L579.43 1138.18 L580.75 1143.04 L582.08 1147.99 L583.40 1153.03 L584.73 1158.16 L586.05 1163.39 L587.38 1168.71 L588.70 1174.13 L590.03 1179.64 L591.35 1185.26 L592.68 1190.98 L594.00 1196.80 L595.33 1202.72 L596.65 1208.75 L597.98 1214.88 L599.30 1221.13 L600.63 1227.48 L601.95 1233.95 L603.28 1240.53 L604.60 1247.23 L605.93 1254.05 L607.25 1260.98 L608.58 1268.04 L609.90 1275.21 L611.23 1282.52 L612.55 1289.95 L613.88 1297.51 L615.20 1305.19 L616.53 1313.01 L617.85 1320.97 L619.18 1329.06 L620.50 1337.29 L621.83 1345.66 L623.15 1354.18 L624.48 1362.84 L625.80 1371.64 L627.13 1380.60 L628.45 1389.71 L629.78 1398.97 L631.10 1408.39 L632.43 1417.96 L633.75 1427.70 L635.08 1437.60 L636.40 1447.67 L637.73 1457.90 L639.05 1468.31 L640.38 1478.89 L641.70 1489.64 L643.03 1500.58 L644.35 1511.69" stroke="#ff8000"/>
</g>
<path d="M116.0 66.5 H725.5 V1196.5 H116.0 Z M116.0 443.35 H725.5 M116.0 819.85 H725.5 M116.0 348.91 h7 M116.0 254.78 h7 M116.0 160.64 h7 M319.17 443.05 v-7 M522.33 443.05 v-7 M116.0 725.61 h7 M116.0 631.42 h7 M116.0 537.24 h7 M319.17 819.8 v-7 M522.33 819.8 v-7 M116.0 1102.25 h7 M116.0 1008.10 h7 M116.0 913.95 h7 M319.17 1196.4 v-7 M522.33 1196.4 v-7" stroke="#646464" stroke-width="1.05" fill="none"/>
<rect x="118.65" y="67.35" width="214.80" height="64.90" fill="#fff" stroke="#000" stroke-width="2.7"/>
<rect x="118.65" y="441.05" width="198.90" height="64.20" fill="#fff" stroke="#000" stroke-width="2.7"/>
<rect x="118.65" y="819.65" width="198.90" height="64.30" fill="#fff" stroke="#000" stroke-width="2.7"/>
<path d="M390.8 27 H413.6 M390.8 33.1 H413.6 M175.8 97.20 H199 M175.8 104.10 H199 M175.8 470.30 H199 M175.8 477.20 H199 M175.8 848.50 H199 M175.8 855.40 H199 M85.3 434.10 H96.8 M85.3 810.85 H96.8 M85.3 1187.45 H96.8" stroke="#000" stroke-width="1.3" fill="none"/>
<path d="M766.3 586.7 H802.5" stroke="#000" stroke-width="3.1"/>
<path d="M766.3 653.0 H802.5" stroke="#00aa00" stroke-width="3.1"/>
<path d="M766.3 718.2 H802.5" stroke="#ff8000" stroke-width="3.1"/>
<g opacity="0.999" stroke="#fff" stroke-width="0.35">
<text transform="matrix(1.1475 0 0 0.9333 328.61 40.27)" stroke-width="0.58" font-style="italic">m</text>
<text transform="matrix(0.8094 0 0 0.6931 358.37 45.25)" stroke-width="0.58" font-style="italic">T</text>
<text transform="matrix(0.8218 0 0 0.9308 424.82 39.53)" stroke-width="0.22">1</text>
<text transform="matrix(0.8496 0 0 0.9509 451.45 39.32)" stroke-width="0.22">TeV</text>
<text transform="matrix(1.0690 0 0 0.9260 127.39 110.20)" stroke-width="0.58" font-style="italic">&#965;</text>
<text transform="matrix(0.8235 0 0 0.6812 143.33 115.34)" stroke-width="0.58" font-style="italic">T</text>
<text transform="matrix(0.8459 0 0 0.9159 209.73 110.07)" stroke-width="0.22">100</text>
<text transform="matrix(0.7923 0 0 0.9321 269.81 109.83)" stroke-width="0.22">keV</text>
<text transform="matrix(1.0690 0 0 0.9260 127.39 483.30)" stroke-width="0.58" font-style="italic">&#965;</text>
<text transform="matrix(0.8235 0 0 0.6812 143.33 488.44)" stroke-width="0.58" font-style="italic">T</text>
<text transform="matrix(0.8755 0 0 0.9159 208.61 483.17)" stroke-width="0.22">50</text>
<text transform="matrix(0.7862 0 0 0.9321 253.41 482.93)" stroke-width="0.22">keV</text>
<text transform="matrix(1.0690 0 0 0.9260 127.39 861.50)" stroke-width="0.58" font-style="italic">&#965;</text>
<text transform="matrix(0.8235 0 0 0.6812 143.33 866.64)" stroke-width="0.58" font-style="italic">T</text>
<text transform="matrix(0.8524 0 0 0.9159 209.10 861.37)" stroke-width="0.22">20</text>
<text transform="matrix(0.7862 0 0 0.9321 253.41 861.13)" stroke-width="0.22">keV</text>
<text transform="matrix(0.6367 0 0 0.7140 71.01 167.76)" stroke-width="0.22">100</text>
<text transform="matrix(0.6182 0 0 0.7154 96.18 261.95)" stroke-width="0.22">1</text>
<text transform="matrix(0.6433 0 0 0.7178 63.67 356.13)" stroke-width="0.22">0.01</text>
<text transform="matrix(0.6551 0 0 0.7252 58.44 450.52)" stroke-width="0.22">10</text>
<text transform="matrix(0.4877 0 0 0.5146 98.31 439.48)" stroke-width="0.22">4</text>
<text transform="matrix(0.6367 0 0 0.7140 71.01 544.36)" stroke-width="0.22">100</text>
<text transform="matrix(0.6182 0 0 0.7154 96.18 638.60)" stroke-width="0.22">1</text>
<text transform="matrix(0.6433 0 0 0.7178 63.67 732.83)" stroke-width="0.22">0.01</text>
<text transform="matrix(0.6551 0 0 0.7252 58.44 827.27)" stroke-width="0.22">10</text>
<text transform="matrix(0.4877 0 0 0.5146 98.31 816.23)" stroke-width="0.22">4</text>
<text transform="matrix(0.6367 0 0 0.7140 71.01 921.07)" stroke-width="0.22">100</text>
<text transform="matrix(0.6182 0 0 0.7154 96.18 1015.28)" stroke-width="0.22">1</text>
<text transform="matrix(0.6433 0 0 0.7178 63.67 1109.47)" stroke-width="0.22">0.01</text>
<text transform="matrix(0.6551 0 0 0.7252 58.44 1203.87)" stroke-width="0.22">10</text>
<text transform="matrix(0.4877 0 0 0.5146 98.31 1192.83)" stroke-width="0.22">4</text>
<text transform="matrix(0.6470 0 0 0.7140 99.37 1227.02)" stroke-width="0.22">0.1</text>
<text transform="matrix(0.6473 0 0 0.7231 312.17 1227.18)" stroke-width="0.22">1</text>
<text transform="matrix(0.6667 0 0 0.7140 508.90 1227.02)" stroke-width="0.22">10</text>
<text transform="matrix(0.6367 0 0 0.7140 706.41 1227.12)" stroke-width="0.22">100</text>
<text transform="matrix(1.1434 0 0 0.9833 372.41 1284.99)" stroke-width="0.58" font-style="italic">m</text>
<text transform="matrix(0.7953 0 0 0.6574 402.71 1289.73)" stroke-width="0.58" font-style="italic">T</text>
<text transform="matrix(1.3429 0 0 1.3585 424.56 1292.66)" stroke-width="0.22">/</text>
<text transform="matrix(1.1435 0 0 0.9624 438.07 1284.98)" stroke-width="0.58" font-style="italic">T</text>
<g transform="translate(33,665.9) rotate(-90)"><text transform="matrix(0.9086 0 0 0.9825 -1.14 0.25)" stroke-width="0.22">&#915;</text></g>
<g transform="translate(33,665.9) rotate(-90)"><text transform="matrix(1.3524 0 0 1.3585 20.76 8.46)" stroke-width="0.22">/</text></g>
<g transform="translate(33,665.9) rotate(-90)"><text transform="matrix(0.9752 0 0 1.0020 38.40 0.50)" stroke-width="0.58" font-style="italic">H</text></g>
<text transform="matrix(0.8766 0 0 0.9147 814.87 593.45)" stroke-width="0.22">equilibrium</text>
<text transform="matrix(0.8840 0 0 0.9515 816.80 660.04)" stroke-width="0.22">&#915;</text>
<text transform="matrix(0.6920 0 0 0.5547 837.06 644.36)" stroke-width="0.22">av.</text>
<text transform="matrix(0.7342 0 0 0.6693 838.30 669.03)" stroke-width="0.58" font-style="italic">L</text>
<text transform="matrix(0.8840 0 0 0.9476 816.80 725.44)" stroke-width="0.22">&#915;</text>
<text transform="matrix(0.6920 0 0 0.5547 837.06 710.06)" stroke-width="0.22">av.</text>
<text transform="matrix(0.6182 0 0 0.6574 838.30 734.43)" stroke-width="0.58" font-style="italic">H</text>
</g>
</svg>
</body></html>
